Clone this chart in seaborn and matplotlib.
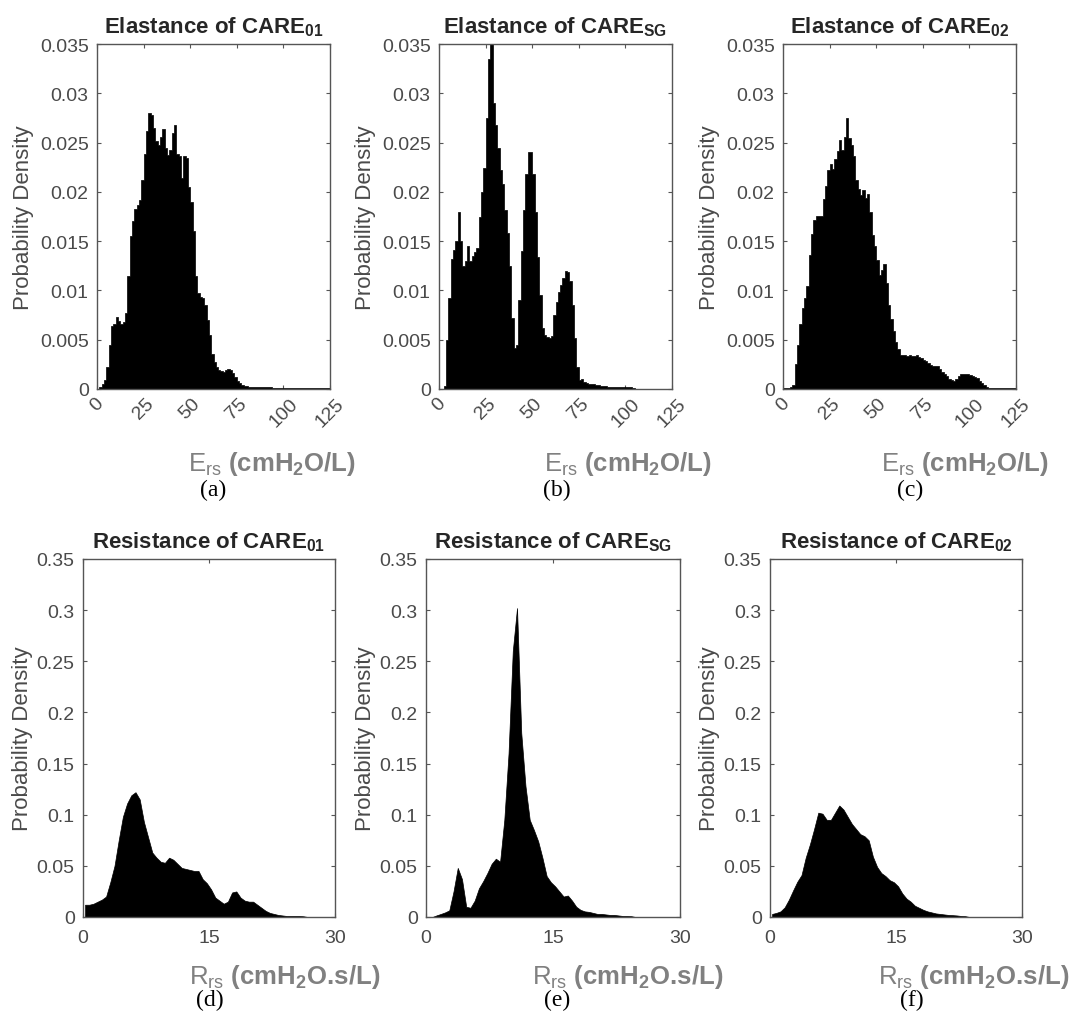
import numpy as np
import pandas as pd
import seaborn as sns
from matplotlib import pyplot as plt

# histogram densities (elastance: bins of 1.25, resistance: bins of 0.5)
ers_care01 = [0.0000, 0.0002, 0.0005, 0.0009, 0.0022, 0.0045, 0.0064, 0.0066, 0.0073, 0.0069,
              0.0066, 0.0068, 0.0077, 0.0115, 0.0155, 0.0170, 0.0183, 0.0187, 0.0192, 0.0212,
              0.0238, 0.0262, 0.0280, 0.0278, 0.0265, 0.0252, 0.0248, 0.0256, 0.0264, 0.0245,
              0.0237, 0.0242, 0.0260, 0.0268, 0.0238, 0.0236, 0.0214, 0.0236, 0.0234, 0.0205,
              0.0190, 0.0160, 0.0115, 0.0097, 0.0093, 0.0092, 0.0085, 0.0070, 0.0055, 0.0036,
              0.0027, 0.0022, 0.0019, 0.0018, 0.0017, 0.0019, 0.0020, 0.0019, 0.0016, 0.0012,
              0.0008, 0.0006, 0.0004, 0.0003, 0.0003, 0.0002, 0.0002, 0.0002, 0.0002, 0.0002,
              0.0002, 0.0002, 0.0002, 0.0002, 0.0002, 0.0001, 0.0001, 0.0001, 0.0001, 0.0001,
              0.0001, 0.0001, 0.0001, 0.0001, 0.0001, 0.0001, 0.0001, 0.0001, 0.0001, 0.0001,
              0.0001, 0.0001, 0.0001, 0.0001, 0.0001, 0.0001, 0.0001, 0.0001, 0.0001, 0.0001]

ers_caresg = [0.0000, 0.0000, 0.0003, 0.0050, 0.0092, 0.0132, 0.0141, 0.0150, 0.0180, 0.0150,
              0.0125, 0.0130, 0.0145, 0.0130, 0.0135, 0.0139, 0.0143, 0.0175, 0.0200, 0.0224,
              0.0275, 0.0335, 0.0350, 0.0290, 0.0268, 0.0245, 0.0222, 0.0208, 0.0182, 0.0158,
              0.0125, 0.0072, 0.0042, 0.0045, 0.0090, 0.0140, 0.0182, 0.0218, 0.0240, 0.0240,
              0.0218, 0.0180, 0.0134, 0.0095, 0.0062, 0.0055, 0.0053, 0.0052, 0.0054, 0.0075,
              0.0088, 0.0098, 0.0106, 0.0113, 0.0120, 0.0119, 0.0110, 0.0085, 0.0052, 0.0022,
              0.0009, 0.0010, 0.0007, 0.0006, 0.0005, 0.0005, 0.0005, 0.0004, 0.0004, 0.0003,
              0.0003, 0.0003, 0.0002, 0.0002, 0.0002, 0.0002, 0.0002, 0.0002, 0.0002, 0.0002,
              0.0002, 0.0002, 0.0002, 0.0001, 0.0000, 0.0000, 0.0000, 0.0000, 0.0000, 0.0000,
              0.0000, 0.0000, 0.0000, 0.0000, 0.0000, 0.0000, 0.0000, 0.0000, 0.0000, 0.0000]

ers_care02 = [0.0001, 0.0001, 0.0001, 0.0002, 0.0004, 0.0025, 0.0045, 0.0066, 0.0082, 0.0092,
              0.0105, 0.0136, 0.0157, 0.0171, 0.0176, 0.0176, 0.0176, 0.0193, 0.0206, 0.0222,
              0.0228, 0.0223, 0.0233, 0.0241, 0.0253, 0.0242, 0.0256, 0.0275, 0.0255, 0.0248,
              0.0236, 0.0212, 0.0203, 0.0197, 0.0202, 0.0194, 0.0198, 0.0180, 0.0156, 0.0145,
              0.0131, 0.0116, 0.0121, 0.0127, 0.0108, 0.0085, 0.0071, 0.0059, 0.0048, 0.0041,
              0.0035, 0.0034, 0.0034, 0.0033, 0.0034, 0.0033, 0.0033, 0.0034, 0.0032, 0.0031,
              0.0029, 0.0028, 0.0026, 0.0024, 0.0023, 0.0023, 0.0023, 0.0020, 0.0017, 0.0015,
              0.0013, 0.0010, 0.0009, 0.0008, 0.0010, 0.0013, 0.0015, 0.0015, 0.0015, 0.0015,
              0.0014, 0.0013, 0.0012, 0.0011, 0.0008, 0.0006, 0.0004, 0.0002, 0.0001, 0.0001,
              0.0001, 0.0001, 0.0001, 0.0001, 0.0001, 0.0001, 0.0001, 0.0001, 0.0001, 0.0001]

rrs_care01 = [0.012, 0.012, 0.013, 0.015, 0.017, 0.020, 0.034, 0.050, 0.075, 0.098,
              0.111, 0.119, 0.122, 0.115, 0.093, 0.078, 0.063, 0.058, 0.054, 0.053,
              0.058, 0.056, 0.052, 0.048, 0.047, 0.046, 0.045, 0.045, 0.037, 0.033,
              0.027, 0.019, 0.016, 0.013, 0.015, 0.024, 0.025, 0.019, 0.016, 0.015,
              0.015, 0.012, 0.009, 0.006, 0.004, 0.003, 0.002, 0.0015, 0.001, 0.001,
              0.001, 0.001, 0.0007, 0, 0, 0, 0, 0, 0, 0]

rrs_caresg = [0, 0, 0.0016, 0.003, 0.0045, 0.0065, 0.025, 0.048, 0.037, 0.010,
              0.009, 0.016, 0.028, 0.035, 0.043, 0.052, 0.057, 0.054, 0.095, 0.160,
              0.260, 0.302, 0.180, 0.128, 0.095, 0.085, 0.074, 0.058, 0.040, 0.034,
              0.030, 0.025, 0.020, 0.021, 0.016, 0.010, 0.007, 0.0055, 0.005, 0.004,
              0.003, 0.003, 0.0025, 0.002, 0.002, 0.0015, 0.001, 0.001, 0.0008, 0,
              0, 0, 0, 0, 0, 0, 0, 0, 0, 0]

rrs_care02 = [0.003, 0.004, 0.0055, 0.0095, 0.017, 0.026, 0.0345, 0.041, 0.058, 0.071,
              0.086, 0.102, 0.101, 0.095, 0.095, 0.102, 0.109, 0.105, 0.098, 0.091,
              0.086, 0.081, 0.079, 0.075, 0.059, 0.049, 0.043, 0.040, 0.036, 0.034,
              0.030, 0.023, 0.018, 0.015, 0.011, 0.009, 0.007, 0.0055, 0.0045, 0.0035,
              0.003, 0.0025, 0.002, 0.0018, 0.0015, 0.001, 0.0008, 0, 0, 0,
              0, 0, 0, 0, 0, 0, 0, 0, 0, 0]

groups = ['01', 'SG', '02']
letters = ['(a)', '(b)', '(c)', '(d)', '(e)', '(f)']
ers_ticks = [0, 25, 50, 75, 100, 125]
ers_yticks = [0, 0.005, 0.01, 0.015, 0.02, 0.025, 0.03, 0.035]
ers_ylabels = ['0', '0.005', '0.01', '0.015', '0.02', '0.025', '0.03', '0.035']
rrs_ticks = [0, 15, 30]
rrs_yticks = [0, 0.05, 0.1, 0.15, 0.2, 0.25, 0.3, 0.35]
rrs_ylabels = ['0', '0.05', '0.1', '0.15', '0.2', '0.25', '0.3', '0.35']

sns.set_theme(style="ticks")
plt.rcParams['font.family'] = ['Liberation Sans', 'DejaVu Sans']
plt.rcParams['mathtext.fontset'] = 'custom'
plt.rcParams['mathtext.rm'] = 'Liberation Sans'
plt.rcParams['mathtext.it'] = 'Liberation Sans:italic'
plt.rcParams['mathtext.bf'] = 'Liberation Sans:bold'

W, H = 1071, 1020
fig = plt.figure(figsize=(W / 100, H / 100), dpi=100)

def px_axes(l, t, r, b):
    return fig.add_axes([l / W, 1 - b / H, (r - l) / W, (b - t) / H])

# pixel boxes of the six panels
boxes = [(97, 45, 330, 390), (439, 45, 672, 390), (783, 45, 1016, 390),
         (83, 560, 335, 918), (426, 560, 680, 918), (770, 560, 1022, 918)]
xlab_pos = [0.75, 0.81, 0.78, 0.80, 0.795, 0.81]
letter_x = [213, 557, 910, 210, 557, 912]

datasets = [ers_care01, ers_caresg, ers_care02, rrs_care01, rrs_caresg, rrs_care02]
tick_gray = '#4a4a4a'
lab_gray = '#808080'

for i, vals in enumerate(datasets):
    top = i < 3
    width = 1.25 if top else 0.5
    n = len(vals)
    df = pd.DataFrame({'x': np.arange(n) * width + width / 2, 'density': vals})
    l, t, r, b = boxes[i]
    ax = px_axes(l, t, r, b)
    sns.histplot(data=df, x='x', weights='density', binwidth=width, binrange=(0, n * width),
                 element='step' if top else 'poly', fill=True, color='black', alpha=1,
                 linewidth=0.5, ax=ax)
    g = groups[i % 3]
    if top:
        ax.set_xlim(0, 125)
        ax.set_ylim(0, 0.035)
        ax.set_xticks(ers_ticks)
        ax.set_xticklabels([str(v) for v in ers_ticks], rotation=45, ha='center')
        ax.set_yticks(ers_yticks)
        ax.set_yticklabels(ers_ylabels)
        ax.set_title(r'Elastance of CARE$_{\mathbf{%s}}$' % g, fontsize=16,
                     fontweight='bold', pad=8)
        ax.set_xlabel(r'E$_{\mathregular{rs}}$ $\mathbf{(cmH_2O/L)}$', fontsize=18.5,
                      color=lab_gray)
        ax.xaxis.set_label_coords(xlab_pos[i], -0.175)
        ax.tick_params(axis='x', pad=4)
        ylab_off = 63
    else:
        ax.set_xlim(0, 30)
        ax.set_ylim(0, 0.35)
        ax.set_xticks(rrs_ticks)
        ax.set_xticklabels([str(v) for v in rrs_ticks])
        ax.set_yticks(rrs_yticks)
        ax.set_yticklabels(rrs_ylabels)
        ax.set_title(r'Resistance of CARE$_{\mathbf{%s}}$' % g, fontsize=16,
                     fontweight='bold', pad=8)
        ax.set_xlabel(r'R$_{\mathregular{rs}}$ $\mathbf{(cmH_2O.\!s/L)}$', fontsize=18.5,
                      color=lab_gray)
        ax.xaxis.set_label_coords(xlab_pos[i], -0.125)
        ax.tick_params(axis='x', pad=9)
        ylab_off = 50
    ax.set_ylabel('Probability Density', fontsize=16, color=tick_gray)
    ax.yaxis.set_label_coords(-ylab_off / (r - l), 0.5)
    ax.tick_params(direction='in', top=True, right=True, length=3, width=0.8,
                   labelsize=14, labelcolor=tick_gray, color='#555555')
    ax.tick_params(axis='y', pad=6)
    for s in ax.spines.values():
        s.set_color('#555555')
        s.set_linewidth(1.0)
    ly = 490 if top else 1000
    fig.text(letter_x[i] / W, 1 - ly / H, letters[i], family='Liberation Serif',
             fontsize=17, ha='center', va='center', color='black')

fig.savefig('out.png', dpi=100)
